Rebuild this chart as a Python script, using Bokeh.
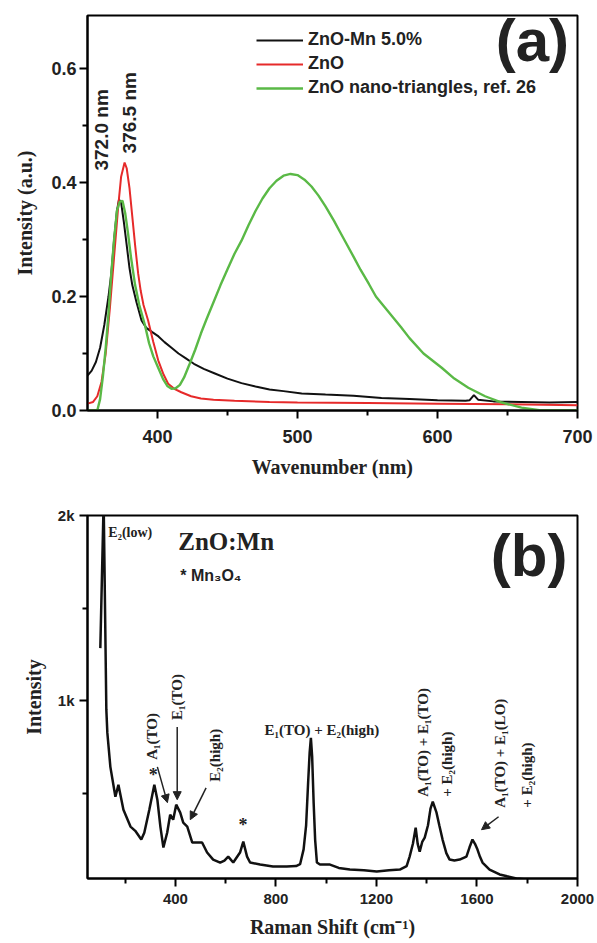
import math
from bokeh.plotting import figure
from bokeh.layouts import column
from bokeh.models import FixedTicker, Range1d, Legend, LegendItem, Arrow, NormalHead, Label
from bokeh.embed import file_html
from bokeh.resources import INLINE

# ---------------- Panel (a): photoluminescence ----------------
mn_wl = [350, 353, 356, 359, 362, 365, 367, 369, 371, 372.5, 374, 376, 378, 380, 382, 385,
         388.6, 392, 396, 400.7, 405, 410, 415, 420, 426, 433, 441, 450, 460, 470, 480, 490,
         503, 520, 540, 560, 580, 600, 620, 623, 626, 629, 640, 660, 680, 700]
mn_int = [0.061, 0.07, 0.085, 0.11, 0.15, 0.2, 0.24, 0.3, 0.35, 0.37, 0.365, 0.33, 0.29, 0.25, 0.22, 0.19,
          0.158, 0.145, 0.138, 0.13, 0.12, 0.11, 0.1, 0.092, 0.082, 0.073, 0.065, 0.056, 0.048, 0.042, 0.037, 0.034,
          0.03, 0.028, 0.026, 0.022, 0.02, 0.018, 0.017, 0.018, 0.027, 0.019, 0.016, 0.015, 0.014, 0.015]

zno_wl = [350, 354, 357, 360, 363, 366, 369, 372, 374, 376.5, 378, 380, 382, 384, 386.2, 388, 390,
          393.3, 397, 400.5, 404, 407.6, 412, 417, 424, 431, 440, 455, 480, 500, 550, 600, 650, 700]
zno_int = [0.012, 0.015, 0.025, 0.05, 0.1, 0.18, 0.27, 0.36, 0.41, 0.435, 0.425, 0.39, 0.34, 0.29, 0.24, 0.21, 0.185,
           0.158, 0.12, 0.088, 0.065, 0.047, 0.038, 0.032, 0.025, 0.021, 0.019, 0.017, 0.015, 0.014, 0.013, 0.012, 0.011, 0.009]

tri_wl = [350, 357, 359, 361, 363, 365, 367, 369, 371, 373, 375, 377, 379, 381, 384, 387, 391, 394, 397,
          400.5, 404, 407, 410, 413, 416, 419, 423, 427, 431, 435, 440, 445, 450, 455, 460, 465, 470, 475,
          480, 485, 490, 495, 500, 505, 510, 515, 520, 526, 530, 534, 540, 545, 551, 556, 562, 568, 574,
          580, 590, 603, 612, 622, 634, 646, 660, 674, 700]
tri_int = [0.0, 0.0, 0.02, 0.06, 0.11, 0.17, 0.24, 0.3, 0.35, 0.366, 0.368, 0.345, 0.31, 0.27, 0.22, 0.185, 0.15, 0.118, 0.095,
           0.075, 0.055, 0.043, 0.038, 0.039, 0.045, 0.058, 0.082, 0.107, 0.135, 0.16, 0.19, 0.22, 0.248, 0.275, 0.298, 0.325, 0.35, 0.372,
           0.39, 0.403, 0.412, 0.415, 0.413, 0.405, 0.393, 0.377, 0.358, 0.333, 0.315, 0.297, 0.27, 0.247, 0.222, 0.2, 0.182, 0.164, 0.146,
           0.127, 0.1, 0.075, 0.056, 0.04, 0.025, 0.014, 0.005, 0.0, 0.0]

# ---------------- Panel (b): Raman ----------------
raman_shift = [101, 113, 114, 115, 125, 129, 141, 161, 173, 193, 221, 240, 264, 276, 296, 316, 328, 340, 352, 367,
               379, 391, 403, 419, 431, 447, 467, 487, 506, 526, 550, 578, 595, 610, 630, 657, 670, 685, 697, 737,
               788, 843, 880, 896, 910, 920, 928, 934, 939, 944, 950, 956, 963, 975, 1015, 1050, 1094, 1150, 1201, 1250,
               1293, 1320, 1332, 1345, 1356, 1364, 1372, 1382, 1392, 1405, 1415, 1424, 1439, 1450, 1463, 1478, 1491, 1510,
               1531, 1558, 1570, 1582, 1592, 1602, 1612, 1622, 1650, 1690, 1720, 1757, 1797]
raman_int = [1285, 2000, 2300, 2000, 952, 828, 645, 484, 548, 414, 323, 300, 253, 290, 414, 548, 468, 323, 210, 290,
             387, 360, 441, 398, 344, 323, 237, 237, 237, 183, 145, 129, 140, 161, 129, 183, 242, 161, 129, 118,
             108, 108, 110, 120, 200, 330, 560, 720, 801, 700, 450, 250, 129, 118, 118, 100, 91, 88, 81, 88,
             91, 110, 161, 230, 317, 230, 188, 240, 263, 330, 420, 457, 398, 330, 253, 180, 145, 140,
             145, 161, 210, 253, 230, 199, 160, 129, 91, 65, 55, 43, 38]

a_xticks = [400, 500, 600, 700]
a_xminor = [450, 550, 650]
a_yticks = [0.0, 0.2, 0.4, 0.6]
a_ylabels = ["0.0", "0.2", "0.4", "0.6"]
a_yminor = [0.1, 0.3, 0.5]
b_xticks = [400, 800, 1200, 1600, 2000]
b_xminor = [200, 600, 1000, 1400, 1800]
b_yticks = [1000, 2000]
b_ylabels = ["1k", "2k"]
b_yminor = [500, 1500]

SANS = "Liberation Sans"
SERIF = "Liberation Serif"


def style_axes(p, tick_size, title_size):
    p.grid.visible = False
    p.outline_line_color = "black"
    p.outline_line_width = 2
    p.background_fill_color = "white"
    p.border_fill_color = "white"
    for ax in (p.xaxis[0], p.yaxis[0]):
        ax.axis_line_width = 2
        ax.major_tick_line_width = 2
        ax.minor_tick_line_width = 2
        ax.major_tick_in = 0
        ax.major_tick_out = 8
        ax.minor_tick_in = 0
        ax.minor_tick_out = 5
        ax.major_label_text_font = SANS
        ax.major_label_text_font_style = "bold"
        ax.major_label_text_font_size = tick_size
        ax.major_label_text_color = "#222222"
        ax.axis_label_text_font = SERIF
        ax.axis_label_text_font_style = "bold"
        ax.axis_label_text_font_size = title_size
        ax.axis_label_text_color = "#222222"


# ---------- figure (a) ----------
p1 = figure(width=597, height=480, x_range=Range1d(350, 700), y_range=Range1d(0, 0.693),
            output_backend="svg", toolbar_location=None,
            min_border_left=86, min_border_right=20, min_border_top=15, min_border_bottom=70)
style_axes(p1, "18px", "20px")
p1.xaxis.ticker = FixedTicker(ticks=a_xticks, minor_ticks=a_xminor)
p1.yaxis.ticker = FixedTicker(ticks=a_yticks, minor_ticks=a_yminor)
p1.yaxis.major_label_overrides = {t: l for t, l in zip(a_yticks, a_ylabels)}
p1.xaxis.axis_label = "Wavenumber (nm)"
p1.yaxis.axis_label = "Intensity (a.u.)"
p1.xaxis.major_label_standoff = 11
p1.yaxis.major_label_standoff = 3
p1.xaxis.axis_label_standoff = 10
p1.yaxis.axis_label_standoff = 12

r_mn = p1.line(mn_wl, mn_int, line_color="#111111", line_width=2)
r_zno = p1.line(zno_wl, zno_int, line_color="#e62a2a", line_width=2)
r_tri = p1.line(tri_wl, tri_int, line_color="#5ab946", line_width=2.4)

leg = Legend(items=[LegendItem(label="ZnO-Mn 5.0%", renderers=[r_mn]),
                    LegendItem(label="ZnO", renderers=[r_zno]),
                    LegendItem(label="ZnO nano-triangles, ref. 26", renderers=[r_tri])],
             location=(169, 312), orientation="vertical",
             label_text_font=SANS, label_text_font_style="bold", label_text_font_size="18px",
             label_text_color="#222222",
             glyph_width=47, glyph_height=20, label_height=20, spacing=3, label_standoff=5,
             padding=0, margin=0, border_line_alpha=0, background_fill_alpha=0)
p1.add_layout(leg, "center")

p1.add_layout(Label(x=694, y=0.649, text="(a)", text_align="right", text_baseline="middle",
                    text_font=SANS, text_font_style="bold", text_font_size="60px", text_color="#222222"))
p1.add_layout(Label(x=360, y=0.421, text="372.0 nm", angle=math.pi / 2, text_align="left",
                    text_baseline="middle", text_font=SANS, text_font_style="bold",
                    text_font_size="19px", text_color="#222222"))
p1.add_layout(Label(x=380, y=0.451, text="376.5 nm", angle=math.pi / 2, text_align="left",
                    text_baseline="middle", text_font=SANS, text_font_style="bold",
                    text_font_size="19px", text_color="#222222"))

# ---------- figure (b) ----------
p2 = figure(width=597, height=462, x_range=Range1d(50, 2000), y_range=Range1d(43, 2000),
            output_backend="svg", toolbar_location=None,
            min_border_left=87, min_border_right=19, min_border_top=35, min_border_bottom=64)
style_axes(p2, "15px", "20px")
p2.xaxis.ticker = FixedTicker(ticks=b_xticks, minor_ticks=b_xminor)
p2.yaxis.ticker = FixedTicker(ticks=b_yticks, minor_ticks=b_yminor)
p2.yaxis.major_label_overrides = {t: l for t, l in zip(b_yticks, b_ylabels)}
p2.xaxis.axis_label = "Raman Shift (cm\u207b\u00b9)"
p2.yaxis.axis_label = "Intensity"
p2.xaxis.major_label_standoff = 7
p2.yaxis.major_label_standoff = 5
p2.xaxis.axis_label_standoff = 9
p2.yaxis.axis_label_standoff = 10

p2.line(raman_shift, raman_int, line_color="#111111", line_width=2.5)


def lab(p, x, y, text, size="15px", font=SERIF, angle=0.0, align="left", baseline="middle"):
    p.add_layout(Label(x=x, y=y, text=text, angle=angle, text_align=align, text_baseline=baseline,
                       text_font=font, text_font_style="bold", text_font_size=size,
                       text_color="#222222"))


V = math.pi / 2
lab(p2, 1960, 1785, "(b)", size="60px", font=SANS, align="right")
lab(p2, 133, 1909, "E\u2082(low)", size="14px")
lab(p2, 411, 1860, "ZnO:Mn", size="25px")
lab(p2, 419, 1677, "* Mn\u2083O\u2084", size="16px", font=SANS)
lab(p2, 308, 683, "A\u2081(TO)", angle=V)
lab(p2, 407, 898, "E\u2081(TO)", angle=V)
lab(p2, 558, 565, "E\u2082(high)", angle=V)
lab(p2, 983, 844, "E\u2081(TO) + E\u2082(high)", align="center")
lab(p2, 1384, 484, "A\u2081(TO) + E\u2081(TO)", angle=V)
lab(p2, 1479, 484, "+ E\u2082(high)", angle=V)
lab(p2, 1690, 425, "A\u2081(TO) + E\u2081(LO)", angle=V)
lab(p2, 1801, 425, "+ E\u2082(high)", angle=V)
lab(p2, 312, 602, "*", size="18px", align="center")
lab(p2, 669, 333, "*", size="18px", align="center")

for xs, ys, xe, ye in [(407, 860, 407, 468), (328, 645, 368, 452), (522, 532, 459, 360), (1686, 376, 1618, 306)]:
    p2.add_layout(Arrow(x_start=xs, y_start=ys, x_end=xe, y_end=ye, line_width=1.5, line_color="#222222",
                        end=NormalHead(size=8, fill_color="#222222", line_color="#222222")))

layout = column(p1, p2, spacing=0)
open("out.html", "w").write(file_html(layout, INLINE))
